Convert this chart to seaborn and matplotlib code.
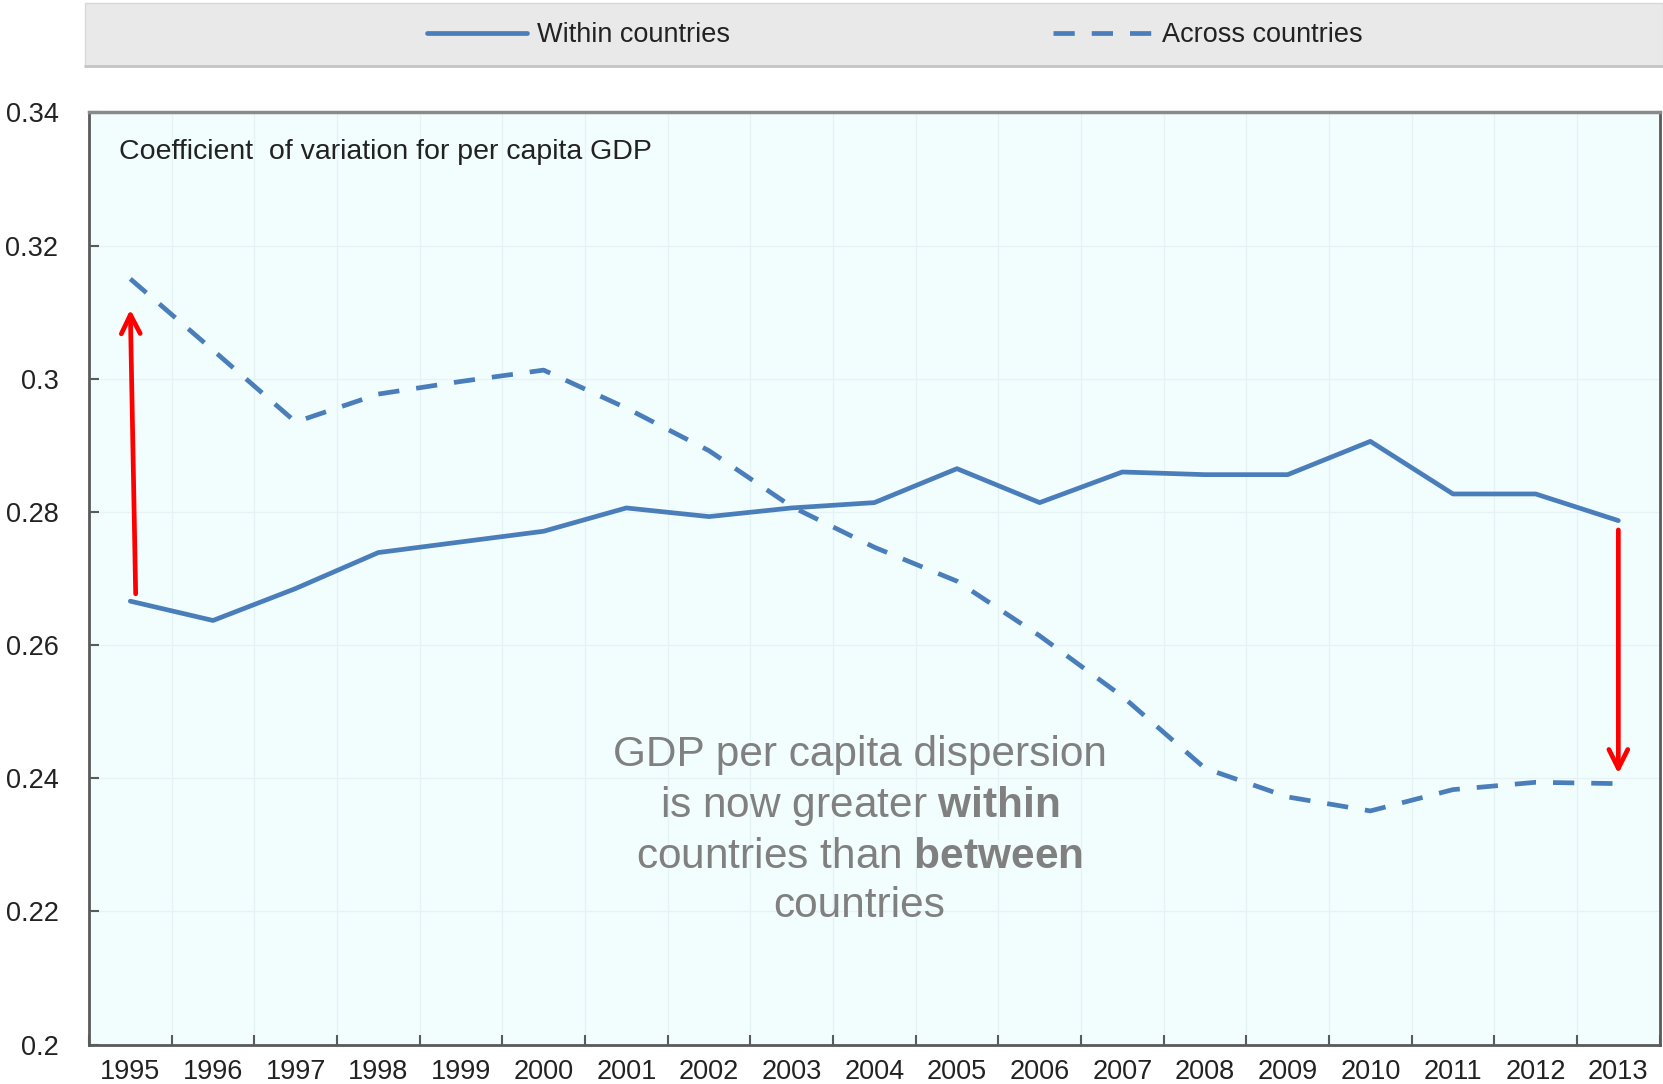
import numpy as np
import pandas as pd
import matplotlib
matplotlib.use("Agg")
import matplotlib.pyplot as plt
import seaborn as sns
from matplotlib.patches import Rectangle
from matplotlib.lines import Line2D

# Coefficient of variation of per capita GDP, 1995-2013
years = list(range(1995, 2014))
within = [0.2666, 0.2637, 0.2685, 0.2739, 0.2755, 0.2771, 0.2806, 0.2793, 0.2806, 0.2814,
          0.2865, 0.2814, 0.2860, 0.2856, 0.2856, 0.2906, 0.2827, 0.2827, 0.2787]
across = [0.3150, 0.3043, 0.2935, 0.2977, 0.2996, 0.3013, 0.2956, 0.2892, 0.2808, 0.2747,
          0.2696, 0.2614, 0.2523, 0.2415, 0.2372, 0.2351, 0.2383, 0.2394, 0.2392]
series_names = ["Within countries", "Across countries"]
y_ticks = [0.20, 0.22, 0.24, 0.26, 0.28, 0.30, 0.32, 0.34]
panel_title = "Coefficient  of variation for per capita GDP"
note_text = ("GDP per capita dispersion\nis now greater $\\mathbf{within}$\n"
             "countries than $\\mathbf{between}$\ncountries")

sns.set_theme(style="white")
plt.rcParams["font.family"] = ["Liberation Sans", "DejaVu Sans"]
plt.rcParams["mathtext.fontset"] = "custom"
plt.rcParams["mathtext.rm"] = "Liberation Sans"
plt.rcParams["mathtext.bf"] = "Liberation Sans:bold"

BLUE = "#4a7ebb"
SPINE = "#5a5a5a"
TEXT = "#222222"

df = pd.DataFrame({
    "year": years * 2,
    "value": within + across,
    "series": [series_names[0]] * len(years) + [series_names[1]] * len(years),
})

fig = plt.figure(figsize=(16.63, 10.84), dpi=100)
ax = fig.add_axes([0.0535, 0.0363, 0.9445, 0.86])
ax.set_facecolor("#f2fdfe")

sns.lineplot(data=df, x="year", y="value", hue="series", style="series",
             palette=[BLUE, BLUE], dashes={series_names[0]: "", series_names[1]: (4.5, 3.6)},
             linewidth=3.4, ax=ax, legend=False)

ax.set_xlim(years[0] - 0.5, years[-1] + 0.5)
ax.set_ylim(y_ticks[0], y_ticks[-1])
ax.set_xlabel("")
ax.set_ylabel("")

# year labels centred on each category, tick marks on the boundaries
ax.set_xticks(years)
ax.set_xticklabels([str(y) for y in years])
ax.set_xticks(np.arange(years[0] - 0.5, years[-1] + 1.0, 1.0), minor=True)
ax.set_yticks(y_ticks)
ax.set_yticklabels([f"{v:g}" for v in y_ticks])

ax.tick_params(axis="x", which="major", length=0, pad=10, labelsize=19.5, colors=TEXT)
ax.tick_params(axis="x", which="minor", direction="in", length=7.5, width=1.5,
               color=SPINE, bottom=True)
ax.tick_params(axis="y", which="major", direction="in", length=7.5, width=1.5,
               color=SPINE, pad=22, labelsize=19.5, labelcolor=TEXT, left=True)

ax.grid(False)
ax.grid(True, axis="x", which="minor", color="#e6f3f4", linewidth=1)
ax.grid(True, axis="y", which="major", color="#e6f3f4", linewidth=1)
ax.set_axisbelow(True)

for side in ["left", "bottom", "right"]:
    ax.spines[side].set_color(SPINE)
    ax.spines[side].set_linewidth(2)
ax.spines["top"].set_color("#8a8a8a")
ax.spines["top"].set_linewidth(2.5)

ax.text(0.019, 0.957, panel_title, transform=ax.transAxes, ha="left", va="center",
        fontsize=20.5, color=TEXT)

# explanatory note
ax.text(8.82 + years[0], 0.2322, note_text, ha="center", va="center",
        fontsize=30.5, color="#808080", linespacing=1.28)

# red arrows showing the change in gap between the two measures
arrow_kw = dict(arrowstyle="->", color="#ff0000", lw=3.4, mutation_scale=34,
                shrinkA=0, shrinkB=0)
ax.annotate("", xy=(years[0], across[0] - 0.0046),
            xytext=(years[0] + 0.065, within[0] + 0.0011), arrowprops=arrow_kw)
ax.annotate("", xy=(years[-1], across[-1] + 0.0015),
            xytext=(years[-1], within[-1] - 0.0014), arrowprops=arrow_kw)

# legend band across the top
band = Rectangle((0.051, 0.939), 0.949, 0.058, transform=fig.transFigure,
                 facecolor="#e9e9e9", edgecolor="#d8d8d8", linewidth=1, zorder=0)
fig.patches.append(band)
fig.add_artist(Line2D([0.051, 1.0], [0.939, 0.939], transform=fig.transFigure,
                      color="#c4c4c4", linewidth=2))

lines = ax.get_lines()
for handle, label, xpos in [(lines[0], series_names[0], 0.2568),
                            (lines[1], series_names[1], 0.633)]:
    fig.legend([handle], [label], loc="center left", bbox_to_anchor=(xpos, 0.9677),
               frameon=False, borderpad=0, borderaxespad=0, handlelength=3.7,
               handletextpad=0.35, fontsize=19.5, labelcolor=TEXT)

fig.savefig("out.png", dpi=100, facecolor="white")
